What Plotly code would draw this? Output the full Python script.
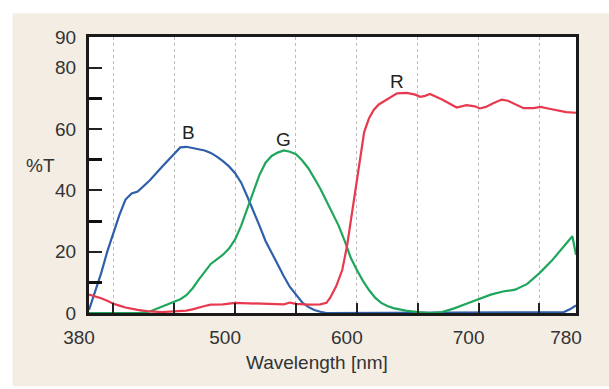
import plotly.graph_objects as go

# ---- data ----
blue_nm = [380, 385, 390, 395, 400, 405, 410, 415, 420, 425, 430, 440, 450, 455, 460, 465, 470, 475, 480, 485,
           490, 495, 500, 505, 510, 515, 520, 525, 530, 535, 540, 545, 550, 555, 560, 565, 570, 575, 770, 775, 780]
blue_t = [1, 7, 13, 20, 26, 32, 37, 39, 39.6, 41.5, 43.3, 47.7, 52, 54, 54.2, 53.8, 53.6, 53, 52.2, 51,
          49.5, 47.8, 45.6, 42.5, 38, 33.5, 28.5, 23.5, 19.5, 15.5, 12, 8.5, 5.8, 3.5, 2, 1, 0.4, 0, 0.3, 1.2, 2.5]

green_nm = [380, 420, 430, 440, 450, 455, 460, 465, 470, 475, 480, 485, 490, 495, 500, 505, 510, 515, 520, 525,
            530, 535, 540, 545, 550, 555, 560, 565, 570, 575, 580, 585, 590, 595, 600, 605, 610, 615, 620, 625,
            630, 640, 650, 660, 670, 680, 690, 700, 710, 720, 730, 740, 750, 760, 770, 777, 780]
green_t = [0, 0, 0.5, 2, 3.6, 4.5, 5.8, 8, 10.8, 13.5, 16, 17.5, 19, 21, 24, 28.5, 34, 40, 45, 49,
           51.2, 52.3, 53, 52.6, 51.8, 49.8, 47.3, 44, 40.5, 36.5, 32.5, 28.5, 23.5, 18, 14, 10.5, 7.5, 5, 3.3, 2.3,
           1.6, 0.8, 0.3, 0, 0.3, 1.5, 3, 4.6, 6, 7, 7.6, 9.5, 13, 17, 21.5, 25, 19]

red_nm = [380, 385, 390, 395, 400, 405, 410, 420, 430, 440, 450, 460, 465, 470, 475, 480, 490, 500, 510, 520,
          530, 540, 545, 550, 560, 570, 575, 578, 583, 588, 592, 596, 600, 603, 606, 610, 614, 618, 622, 627,
          633, 641, 648, 652, 656, 660, 665, 670, 676, 682, 690, 697, 701, 706, 712, 719, 724, 729, 737, 745,
          751, 758, 765, 772, 780]
red_t = [6, 5.5, 4.8, 4, 3, 2.4, 1.8, 1, 0.5, 0.3, 0.5, 0.8, 1.2, 1.8, 2.3, 2.7, 2.8, 3.3, 3.2, 3,
         2.8, 2.8, 3.4, 3, 2.7, 2.8, 3.3, 4.9, 8.7, 14, 22, 33, 44, 52, 59, 63.5, 66.3, 68, 69, 70.3,
         71.6, 71.8, 71.2, 70.5, 70.8, 71.4, 70.6, 69.6, 68.3, 67, 67.8, 67.4, 66.7, 67.2, 68.4, 69.6, 69.2, 68.3, 66.8, 66.8,
         67.2, 66.6, 66, 65.5, 65.3]

x_tick_vals = [380, 500, 600, 700, 780]
x_tick_text = ["380", "500", "600", "700", "780"]
x_minor_vals = [400, 450, 550, 650, 750]
y_tick_vals = [0, 20, 40, 60, 80, 90]
y_minor_vals = [10, 30, 50, 70]

curve_labels = ["B", "G", "R"]
label_nm = [462, 540, 633]
label_t = [59, 56.5, 75.5]

FONT = "Arial, Liberation Sans, sans-serif"
FS = 19

fig = go.Figure()
fig.add_trace(go.Scatter(x=blue_nm, y=blue_t, mode="lines", line=dict(color="#2F5FA9", width=2.2)))
fig.add_trace(go.Scatter(x=green_nm, y=green_t, mode="lines", line=dict(color="#1FA65C", width=2.2)))
fig.add_trace(go.Scatter(x=red_nm, y=red_t, mode="lines", line=dict(color="#E8394E", width=2.2)))

for t, xv, yv in zip(curve_labels, label_nm, label_t):
    fig.add_annotation(x=xv, y=yv, text=t, showarrow=False, font=dict(family=FONT, size=FS, color="#222"))

fig.add_annotation(xref="paper", yref="y", x=-0.1, y=48, text="%T", showarrow=False,
                   xanchor="center", yanchor="middle",
                   font=dict(family=FONT, size=FS, color="#333"))
fig.add_annotation(xref="paper", yref="paper", x=0.468, y=-0.18, text="Wavelength [nm]", showarrow=False,
                   xanchor="center", yanchor="middle", font=dict(family=FONT, size=FS, color="#333"))

# beige page background
fig.add_shape(type="rect", xref="paper", yref="paper", x0=-0.157, x1=1.1, y0=-0.265, y1=1.086,
              fillcolor="#F3EDE4", line=dict(width=0), layer="below")
fig.add_shape(type="rect", xref="paper", yref="paper", x0=0, x1=1, y0=0, y1=1,
              fillcolor="white", line=dict(width=0), layer="below")

fig.update_xaxes(range=[380, 780], tickvals=x_tick_vals, ticktext=x_tick_text,
                 ticks="inside", ticklen=10, tickwidth=2, tickcolor="#222",
                 showgrid=True, gridcolor="#BBBBBB", griddash="dot", gridwidth=1,
                 minor=dict(tickvals=x_minor_vals, ticks="inside", ticklen=10, tickwidth=2, tickcolor="#222",
                            showgrid=True, gridcolor="#BBBBBB", griddash="dot", gridwidth=1),
                 showline=True, linewidth=3, linecolor="#1a1a1a", mirror=True,
                 tickfont=dict(family=FONT, size=FS, color="#333"), ticklabelshift=-10,
                 ticklabelstandoff=5, zeroline=False)
fig.update_yaxes(range=[0, 90], tickvals=y_tick_vals,
                 ticks="inside", ticklen=13, tickwidth=2, tickcolor="#222",
                 minor=dict(tickvals=y_minor_vals, ticks="inside", ticklen=13, tickwidth=3, tickcolor="#111"),
                 showgrid=False, showline=True, linewidth=3, linecolor="#1a1a1a", mirror=True,
                 tickfont=dict(family=FONT, size=FS, color="#333"), ticklabelstandoff=6, zeroline=False)

fig.update_layout(width=609, height=389, margin=dict(l=89, r=33, t=37, b=76),
                  paper_bgcolor="white", plot_bgcolor="white", showlegend=False)

fig.write_html("out.html")
